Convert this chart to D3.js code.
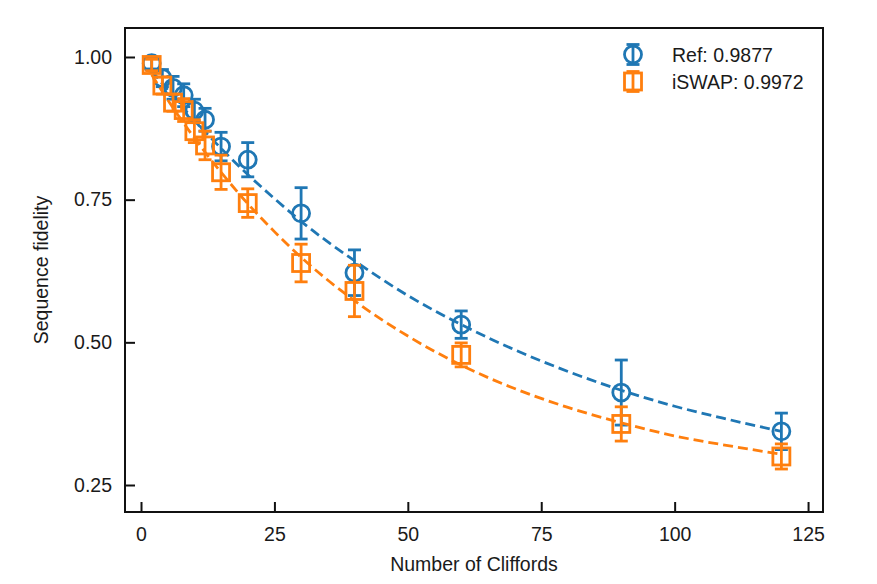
<!DOCTYPE html>
<html>
<head>
<meta charset="utf-8">
<script src="https://cdn.jsdelivr.net/npm/d3@7"></script>
<style>
  html, body { margin: 0; padding: 0; background: #fff; }
  svg text { font-family: "Liberation Sans", Arial, sans-serif; fill: #1a1a1a; }
</style>
</head>
<body>
<svg id="chart" width="877" height="584"></svg>
<script>
// ---- data ----
const cliffords = [2, 4, 6, 8, 10, 12, 15, 20, 30, 40, 60, 90, 120];

const refValues  = [0.989, 0.963, 0.946, 0.933, 0.906, 0.89, 0.843, 0.82, 0.726, 0.622, 0.531, 0.412, 0.344];
const refErrors  = [0.010, 0.015, 0.020, 0.020, 0.020, 0.020, 0.025, 0.030, 0.045, 0.040, 0.024, 0.057, 0.032];

const iswapValues = [0.986, 0.950, 0.920, 0.907, 0.870, 0.845, 0.798, 0.744, 0.639, 0.590, 0.478, 0.357, 0.300];
const iswapErrors = [0.010, 0.015, 0.015, 0.020, 0.020, 0.025, 0.030, 0.025, 0.033, 0.045, 0.021, 0.030, 0.022];

// dashed fit curves
const fitX        = [2, 5, 10, 15, 20, 25, 30, 40, 50, 60, 70, 80, 90, 100, 110, 120];
const refFit      = [0.976, 0.942, 0.889, 0.840, 0.794, 0.752, 0.712, 0.643, 0.582, 0.531, 0.487, 0.449, 0.416, 0.388, 0.365, 0.344];
const iswapFit    = [0.969, 0.925, 0.858, 0.798, 0.743, 0.694, 0.649, 0.573, 0.511, 0.460, 0.419, 0.386, 0.359, 0.336, 0.319, 0.304];

const seriesNames = ["Ref: 0.9877", "iSWAP: 0.9972"];
const seriesColors = ["#1f77b4", "#ff7f0e"];

const xTicks = [0, 25, 50, 75, 100, 125];
const yTicks = [0.25, 0.50, 0.75, 1.00];

const xLabel = "Number of Cliffords";
const yLabel = "Sequence fidelity";

(function () {
// ---- layout ----
const pL = 125, pR = 823, pT = 28, pB = 512;
const FONT = 19.5;

const svg = d3.select("#chart");

const x = d3.scaleLinear().domain([-3.0, 127.8]).range([pL, pR]);
const y = d3.scaleLinear().domain([0.2027, 1.0508]).range([pB, pT]);

// axes
const xAxis = d3.axisBottom(x).tickValues(xTicks).tickFormat(d3.format("d"))
  .tickSizeInner(-10).tickSizeOuter(0).tickPadding(15.5);
const yAxis = d3.axisLeft(y).tickValues(yTicks).tickFormat(d3.format(".2f"))
  .tickSizeInner(-10).tickSizeOuter(0).tickPadding(13);

const gx = svg.append("g").attr("transform", `translate(0,${pB})`).call(xAxis);
const gy = svg.append("g").attr("transform", `translate(${pL},0)`).call(yAxis);
[gx, gy].forEach(g => {
  g.select(".domain").remove();
  g.selectAll(".tick line").attr("stroke", "#111").attr("stroke-width", 2);
  g.selectAll(".tick text").style("font-size", FONT + "px").attr("fill", "#1a1a1a");
});

// axis labels
svg.append("text").attr("x", (pL + pR) / 2).attr("y", 571)
  .attr("text-anchor", "middle").style("font-size", FONT + "px").text(xLabel);
svg.append("text")
  .attr("transform", `translate(48,${(pT + pB) / 2}) rotate(-90)`)
  .attr("text-anchor", "middle").style("font-size", FONT + "px").text(yLabel);

// series
const series = [
  { name: seriesNames[0], color: seriesColors[0], vals: refValues, errs: refErrors, fit: refFit, marker: "circle" },
  { name: seriesNames[1], color: seriesColors[1], vals: iswapValues, errs: iswapErrors, fit: iswapFit, marker: "square" }
];

const line = d3.line().x(d => x(d[0])).y(d => y(d[1])).curve(d3.curveMonotoneX);
const MS = 17, CAP = 6.5, LW = 2.8;

function drawMarker(g, type, cx, cy, color) {
  if (type === "circle") {
    g.append("circle").attr("cx", cx).attr("cy", cy).attr("r", MS / 2)
      .attr("fill", "none").attr("stroke", color).attr("stroke-width", LW);
  } else {
    g.append("rect").attr("x", cx - MS / 2).attr("y", cy - MS / 2)
      .attr("width", MS).attr("height", MS)
      .attr("fill", "none").attr("stroke", color).attr("stroke-width", LW);
  }
}

function drawErr(g, cx, y1, y2, color) {
  g.append("line").attr("x1", cx).attr("x2", cx).attr("y1", y1).attr("y2", y2)
    .attr("stroke", color).attr("stroke-width", LW);
  [y1, y2].forEach(yy => g.append("line").attr("x1", cx - CAP).attr("x2", cx + CAP)
    .attr("y1", yy).attr("y2", yy).attr("stroke", color).attr("stroke-width", LW));
}

series.forEach(s => {
  const g = svg.append("g");
  cliffords.forEach((c, i) => {
    drawErr(g, x(c), y(s.vals[i] + s.errs[i]), y(s.vals[i] - s.errs[i]), s.color);
    drawMarker(g, s.marker, x(c), y(s.vals[i]), s.color);
  });
  g.append("path").datum(fitX.map((fx, i) => [fx, s.fit[i]]))
    .attr("d", line).attr("fill", "none").attr("stroke", s.color)
    .attr("stroke-width", LW).attr("stroke-dasharray", "10,5");
});

// legend
const legY = [54.5, 81.5];
series.forEach((s, i) => {
  const g = svg.append("g");
  const cx = 633;
  drawErr(g, cx, legY[i] - 10, legY[i] + 10, s.color);
  drawMarker(g, s.marker, cx, legY[i], s.color);
  g.append("text").attr("x", 672).attr("y", legY[i] + 7)
    .style("font-size", FONT + "px").text(s.name);
});

// frame
svg.append("rect").attr("x", pL).attr("y", pT)
  .attr("width", pR - pL).attr("height", pB - pT)
  .attr("fill", "none").attr("stroke", "#111").attr("stroke-width", 2);
})();
</script>
</body>
</html>
